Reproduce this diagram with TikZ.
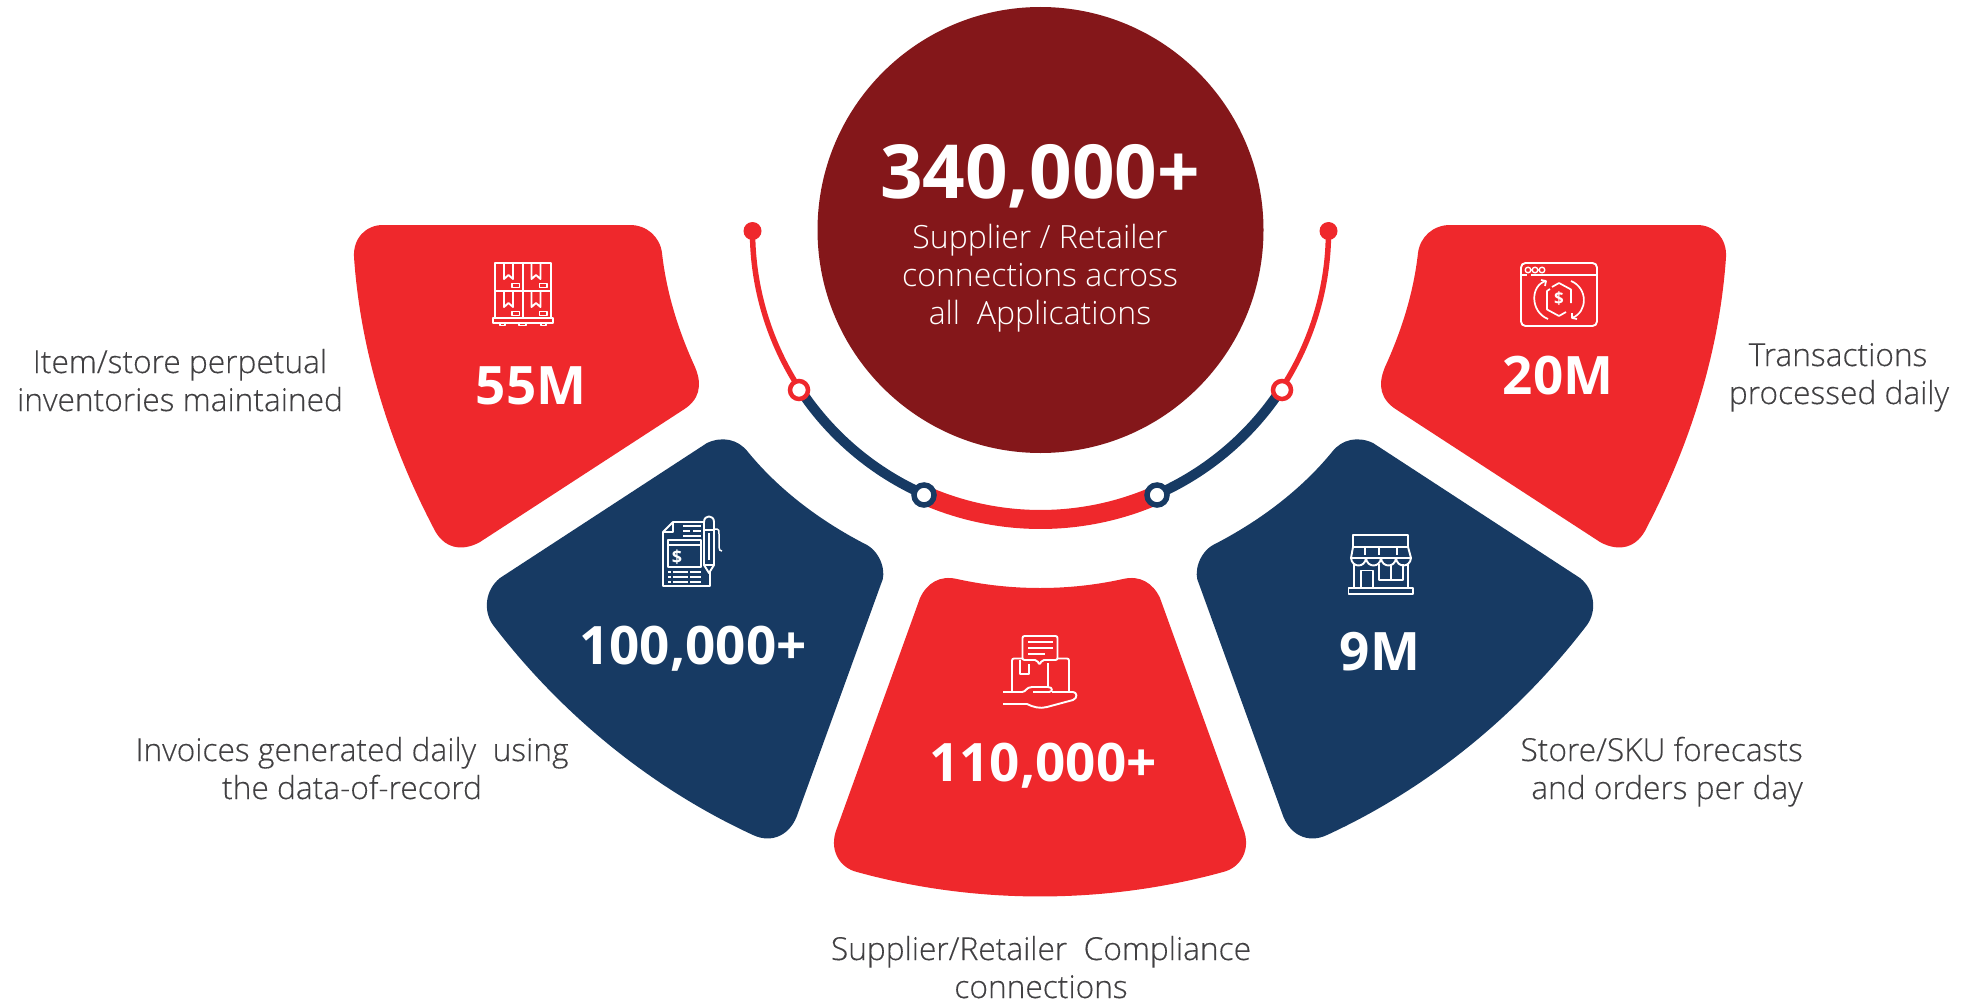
\documentclass[tikz,border=0pt]{standalone}
\usepackage{fontspec}
\setmainfont{Open Sans}
\newfontfamily\oslight{Open Sans Light}
\newfontfamily\oslab[FakeBold=0.3]{Open Sans Light}
\definecolor{redA}{HTML}{EF282C}
\definecolor{navyA}{HTML}{173A63}
\definecolor{wine}{HTML}{84171A}
\definecolor{txtA}{HTML}{414042}
\newcommand{\fsz}[1]{\fontsize{#1}{#1}\selectfont}
\tikzset{
  numtext/.style={text=white,inner sep=0pt,anchor=base,font=\fsz{53}\bfseries},
  labtext/.style={text=txtA,inner sep=0pt,anchor=base,font=\fsz{31.7}\oslab},
  whitetext/.style={text=white,inner sep=0pt,anchor=base,font=\fsz{32}\oslight},
  icon/.style={draw=white,line width=1.9pt,line join=round,line cap=butt},
  ringred/.style={circle,draw=redA,fill=white,line width=4.5pt,minimum size=18pt,inner sep=0pt},
  ringnavy/.style={circle,draw=navyA,fill=white,line width=5.5pt,minimum size=20pt,inner sep=0pt},
  enddot/.style={circle,fill=redA,minimum size=18pt,inner sep=0pt},
  dollar/.style={text=white,inner sep=0pt,font=\fsz{18}\bfseries}
}
\def\shapeA{(383,225) -- (630,225) .. controls (647,225) and (660,237) .. (662,253)
  .. controls (666.5,293) and (678.4,330.6) .. (695,367)
  .. controls (703,386) and (699,400) .. (683,410)
  -- (480,542) .. controls (462,552) and (443,549) .. (433,527)
  .. controls (389.5,443.7) and (360.4,350.8) .. (354,257)
  .. controls (353,238) and (366,225) .. (383,225) -- cycle}
\def\shapeB{(500,578) -- (707,443) .. controls (722,436) and (738,439) .. (748,452)
  .. controls (780,491) and (822,522) .. (867,545)
  .. controls (881,553) and (887,573) .. (881,584)
  -- (798,813) .. controls (791,835) and (772,844) .. (753,835)
  .. controls (651,788) and (561,714) .. (493,625)
  .. controls (483,611) and (485,590) .. (500,578) -- cycle}
\def\shapeC{(957,579) .. controls (1011,591) and (1069,591) .. (1123,579)
  .. controls (1140,575) and (1153,583) .. (1160,598)
  -- (1243,828) .. controls (1252,850) and (1240,868) .. (1223,872)
  .. controls (1105,904.6) and (975,904.6) .. (857,872)
  .. controls (840,868) and (828,850) .. (837,828)
  -- (920,598) .. controls (927,583) and (940,575) .. (957,579) -- cycle}
\begin{document}
\begin{tikzpicture}[x=1pt,y=-1pt]
\useasboundingbox (0,0) rectangle (1964,1003);
% coloured shapes
\fill[redA] \shapeA;
\fill[navyA] \shapeB;
\fill[redA] \shapeC;
\begin{scope}[shift={(2080,0)},xscale=-1]
\fill[redA] \shapeA;
\fill[navyA] \shapeB;
\end{scope}
% central circle
\node[circle,fill=wine,minimum size=446pt,inner sep=0pt] (hub) at (1040.5,230) {};
% arc track
\coordinate (arcC) at (1040.5,231);
\coordinate (endL) at (752.5,231);
\coordinate (endR) at (1328.5,231);
\draw[redA,line width=5.5pt] (arcC)+(180:288) arc[start angle=180,end angle=146.6,radius=288];
\draw[navyA,line width=10pt] (arcC)+(146.6:288) arc[start angle=146.6,end angle=113.7,radius=288];
\draw[redA,line width=19pt] (arcC)+(113.7:288.5) arc[start angle=113.7,end angle=66.3,radius=288.5];
\draw[navyA,line width=10pt] (arcC)+(66.3:288) arc[start angle=66.3,end angle=33.4,radius=288];
\draw[redA,line width=5.5pt] (arcC)+(33.4:288) arc[start angle=33.4,end angle=0,radius=288];
\node[enddot] (dotL) at (endL) {};
\node[enddot] (dotR) at (endR) {};
\node[ringred] (r1) at (799,390) {};
\node[ringred] (r4) at (1282,390) {};
\node[ringnavy] (r2) at (924,495) {};
\node[ringnavy] (r3) at (1157,495) {};
% hub text
\node[numtext,font=\fsz{74.6}\bfseries] (big) at (1040,198.5) {340,000+};
\node[whitetext] (h1) at (1040,248) {Supplier / Retailer};
\node[whitetext] (h2) at (1040,286) {connections across};
\node[whitetext] (h3) at (1040,324) {all\ \ Applications};
% numbers
\node[numtext] (n1) at (531,404) {55M};
\node[numtext] (n2) at (693,664) {100,000+};
\node[numtext] (n3) at (1043,781) {110,000+};
\node[numtext] (n4) at (1380,670) {9M};
\node[numtext] (n5) at (1558,394) {20M};
% labels
\node[labtext] (l1a) at (180,373) {Item/store perpetual};
\node[labtext] (l1b) at (180,411) {inventories maintained};
\node[labtext] (l2a) at (352,761) {Invoices generated daily\ \ using};
\node[labtext] (l2b) at (352,799) {the data-of-record};
\node[labtext] (l3a) at (1041,960) {Supplier/Retailer\ \ Compliance};
\node[labtext] (l3b) at (1041,998) {connections};
\node[labtext,anchor=base east] (l4a) at (1803,761) {Store/SKU forecasts};
\node[labtext,anchor=base east] (l4b) at (1803,799) {and orders per day};
\node[labtext] (l5a) at (1838,366) {Transactions};
\node[labtext] (l5b) at (1839,404) {processed daily};
% icon: pallet
\begin{scope}[icon]
\draw (495,318) rectangle (551,263) (523,263) -- (523,318) (495,291) -- (551,291);
\foreach \dx/\dy in {0/0,27.5/0,0/28,27.5/28}{
 \draw[shift={(\dx,\dy)}] (504,263) -- (504,279) -- (508.5,275) -- (513,279) -- (513,263);
 \draw[shift={(\dx,\dy)},line width=1.5pt] (512,283.5) rectangle (519.5,287.5);
}
\draw (493,318) rectangle (553,323);
\draw (500,323) -- (500,325.5) -- (505,325.5) -- (505,323) (519,323) -- (519,325.5) -- (526,325.5) -- (526,323) (541,323) -- (541,325.5) -- (546,325.5) -- (546,323);
\end{scope}
% icon: invoice and pen
\begin{scope}[icon]
\draw (704,522) -- (673,522) -- (663,532) -- (663,586) -- (710,586) -- (710,572);
\draw (673,522) -- (673,532) -- (663,532);
\draw (668,567) rectangle (701,540) (668,545) -- (701,545);
\node[dollar] (d1) at (677,557) {\$};
\draw (683,526) -- (701,526) (683,531) -- (690,531) (693,531) -- (701,531) (683,536) -- (701,536);
\foreach \yy in {572,577,582}{
 \draw (668,\yy) -- (670.5,\yy) (672.5,\yy) -- (688,\yy) (690,\yy) -- (701,\yy);
}
\draw (704,565) -- (704,522) .. controls (704,514.5) and (714,514.5) .. (714,522) -- (714,565) -- (709,573) -- (704,565) -- cycle;
\draw (704,530) -- (714,530) (704,565) -- (714,565) (709,533) -- (709,560);
\draw[line width=1.5pt] (714,529) -- (717,529) .. controls (719,529) and (719,531) .. (719,534) -- (719,547) .. controls (719,550) and (720,551) .. (722,551);
\end{scope}
% icon: parcel in hand
\begin{scope}[icon]
\draw[rounded corners=2pt] (1037,660) -- (1022.5,660) -- (1022.5,636) -- (1057.5,636) -- (1057.5,660) -- (1042,660) -- (1039.5,665) -- cycle;
\draw (1028,642) -- (1053,642) (1028,648) -- (1053,648) (1028,654) -- (1045,654);
\draw[rounded corners=2pt] (1022,658.5) -- (1012,658.5) -- (1012,692) (1058,658.5) -- (1069,658.5) -- (1069,692);
\draw (1020,660) -- (1020,674) -- (1029,674) -- (1029,664);
\draw (1048,663) -- (1048,687);
\draw (1003,692) -- (1022,692) .. controls (1026,692) and (1026,687) .. (1032,687) -- (1048,687) .. controls (1053,687) and (1053,692) .. (1049,692) -- (1033,692);
\draw (1052,692) -- (1073,692) .. controls (1077,692) and (1078,698) .. (1073,700) -- (1047,707) .. controls (1040,709) and (1033,707) .. (1027,704) -- (1003,704);
\end{scope}
% icon: shop
\begin{scope}[icon]
\draw (1353,547) rectangle (1408,535);
\draw (1353,547) -- (1408,547) -- (1411,558) -- (1351,558) -- cycle;
\draw (1365,547) -- (1365,555) (1379,547) -- (1379,555) (1397,547) -- (1397,555);
\foreach \xa/\xb in {1351/1366,1366/1381,1381/1396,1396/1411}{
 \draw (\xa,558) .. controls (\xa+1,568) and (\xb-1,568) .. (\xb,558);
}
\draw (1354,563) -- (1354,588) (1408,563) -- (1408,588);
\draw (1361,588) -- (1361,570.5) -- (1373,570.5) -- (1373,588);
\draw (1379,564) -- (1379,580) -- (1403,580) -- (1403,564) (1391,564) -- (1391,580);
\draw (1348.5,588) rectangle (1413,594);
\end{scope}
% icon: payment window
\begin{scope}[icon]
\draw[rounded corners=4.5pt] (1521,263) rectangle (1597,326);
\draw (1521,275) -- (1527,275) (1531,275) -- (1597,275);
\draw[line width=1.4pt] (1528,270) circle (2.8) (1535,270) circle (2.8) (1542,270) circle (2.8);
\draw[line width=1.7pt] (1552,287) -- (1559,283) -- (1571,289.5) -- (1571,303) (1566,312) -- (1559,316) -- (1547,309.5) -- (1547,291) -- (1550,289);
\node[dollar,font=\fsz{17}\bfseries] (d2) at (1559,299) {\$};
\draw[line width=1.7pt] (1548,319) .. controls (1530,312) and (1530,285) .. (1546,281);
\draw[line width=1.7pt] (1541,280) -- (1546,281) -- (1545,286);
\draw[line width=1.7pt] (1571,281) .. controls (1588,288) and (1588,312) .. (1572,318);
\draw[line width=1.7pt] (1577,319) -- (1572,318) -- (1572,313);
\end{scope}
\end{tikzpicture}
\end{document}
